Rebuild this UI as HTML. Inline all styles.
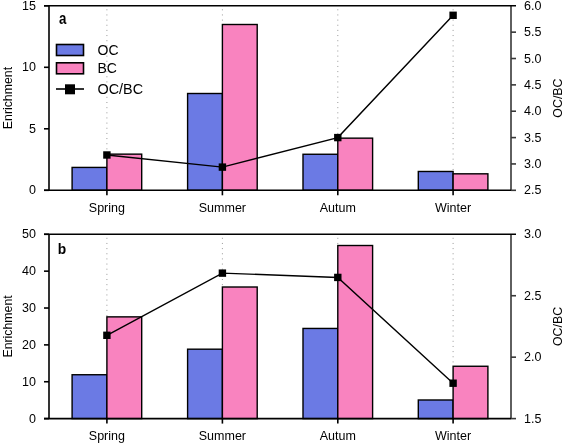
<!DOCTYPE html><html><head><meta charset="utf-8"><style>html,body{margin:0;padding:0;background:#fff;width:564px;height:447px;overflow:hidden}svg{display:block;will-change:transform}text{font-family:"Liberation Sans",sans-serif;fill:#000}</style></head><body>
<svg width="564" height="447" viewBox="0 0 564 447">
<line x1="106.9" y1="9.3" x2="106.9" y2="154.14" stroke="#999" stroke-width="1" stroke-dasharray="1 4.15"/>
<line x1="222.4" y1="9.3" x2="222.4" y2="24.5" stroke="#999" stroke-width="1" stroke-dasharray="1 4.15"/>
<line x1="337.8" y1="9.3" x2="337.8" y2="138.15" stroke="#999" stroke-width="1" stroke-dasharray="1 4.15"/>
<line x1="453.1" y1="9.3" x2="453.1" y2="171.48" stroke="#999" stroke-width="1" stroke-dasharray="1 4.15"/>
<rect x="72.1" y="167.42" width="34.8" height="22.88" fill="#6b7ae4" stroke="#000" stroke-width="1.4"/>
<rect x="106.9" y="154.14" width="34.8" height="36.16" fill="#f983bf" stroke="#000" stroke-width="1.4"/>
<rect x="187.6" y="93.5" width="34.8" height="96.8" fill="#6b7ae4" stroke="#000" stroke-width="1.4"/>
<rect x="222.4" y="24.5" width="34.8" height="165.8" fill="#f983bf" stroke="#000" stroke-width="1.4"/>
<rect x="303" y="154.26" width="34.8" height="36.04" fill="#6b7ae4" stroke="#000" stroke-width="1.4"/>
<rect x="337.8" y="138.15" width="34.8" height="52.15" fill="#f983bf" stroke="#000" stroke-width="1.4"/>
<rect x="418.3" y="171.48" width="34.8" height="18.82" fill="#6b7ae4" stroke="#000" stroke-width="1.4"/>
<rect x="453.1" y="173.82" width="34.8" height="16.48" fill="#f983bf" stroke="#000" stroke-width="1.4"/>
<line x1="511" y1="5.8" x2="511" y2="190.3" stroke="#383838" stroke-width="1.6"/>
<line x1="44" y1="5.8" x2="516" y2="5.8" stroke="#000" stroke-width="1.6"/>
<line x1="44" y1="190.3" x2="511" y2="190.3" stroke="#000" stroke-width="1.6"/>
<line x1="49" y1="5.8" x2="49" y2="190.3" stroke="#000" stroke-width="1.6"/>
<line x1="44" y1="190.3" x2="49" y2="190.3" stroke="#000" stroke-width="1.6"/>
<text x="36" y="194.4" font-size="12.5" text-anchor="end">0</text>
<line x1="44" y1="128.8" x2="49" y2="128.8" stroke="#000" stroke-width="1.6"/>
<text x="36" y="132.9" font-size="12.5" text-anchor="end">5</text>
<line x1="44" y1="67.3" x2="49" y2="67.3" stroke="#000" stroke-width="1.6"/>
<text x="36" y="71.4" font-size="12.5" text-anchor="end">10</text>
<line x1="44" y1="5.8" x2="49" y2="5.8" stroke="#000" stroke-width="1.6"/>
<text x="36" y="9.9" font-size="12.5" text-anchor="end">15</text>
<line x1="511" y1="190.3" x2="516" y2="190.3" stroke="#383838" stroke-width="1.6"/>
<text x="524" y="194.4" font-size="12.5">2.5</text>
<line x1="511" y1="163.94" x2="516" y2="163.94" stroke="#383838" stroke-width="1.6"/>
<text x="524" y="168.04" font-size="12.5">3.0</text>
<line x1="511" y1="137.59" x2="516" y2="137.59" stroke="#383838" stroke-width="1.6"/>
<text x="524" y="141.69" font-size="12.5">3.5</text>
<line x1="511" y1="111.23" x2="516" y2="111.23" stroke="#383838" stroke-width="1.6"/>
<text x="524" y="115.33" font-size="12.5">4.0</text>
<line x1="511" y1="84.87" x2="516" y2="84.87" stroke="#383838" stroke-width="1.6"/>
<text x="524" y="88.97" font-size="12.5">4.5</text>
<line x1="511" y1="58.51" x2="516" y2="58.51" stroke="#383838" stroke-width="1.6"/>
<text x="524" y="62.61" font-size="12.5">5.0</text>
<line x1="511" y1="32.16" x2="516" y2="32.16" stroke="#383838" stroke-width="1.6"/>
<text x="524" y="36.26" font-size="12.5">5.5</text>
<text x="524" y="9.9" font-size="12.5">6.0</text>
<line x1="106.9" y1="190.3" x2="106.9" y2="195.3" stroke="#000" stroke-width="1.6"/>
<text x="106.9" y="211.5" font-size="12.5" text-anchor="middle">Spring</text>
<line x1="222.4" y1="190.3" x2="222.4" y2="195.3" stroke="#000" stroke-width="1.6"/>
<text x="222.4" y="211.5" font-size="12.5" text-anchor="middle">Summer</text>
<line x1="337.8" y1="190.3" x2="337.8" y2="195.3" stroke="#000" stroke-width="1.6"/>
<text x="337.8" y="211.5" font-size="12.5" text-anchor="middle">Autum</text>
<line x1="453.1" y1="190.3" x2="453.1" y2="195.3" stroke="#000" stroke-width="1.6"/>
<text x="453.1" y="211.5" font-size="12.5" text-anchor="middle">Winter</text>
<polyline points="106.9,154.98 222.4,167.11 337.8,137.59 453.1,15.29" fill="none" stroke="#000" stroke-width="1.4"/>
<rect x="103.2" y="151.28" width="7.4" height="7.4" fill="#000"/>
<rect x="218.7" y="163.41" width="7.4" height="7.4" fill="#000"/>
<rect x="334.1" y="133.89" width="7.4" height="7.4" fill="#000"/>
<rect x="449.4" y="11.59" width="7.4" height="7.4" fill="#000"/>
<text transform="translate(12,98.05) rotate(-90)" font-size="12.3" text-anchor="middle">Enrichment</text>
<text transform="translate(562,98.05) rotate(-90)" font-size="12.4" text-anchor="middle">OC/BC</text>
<text transform="translate(58.9,23.9) scale(0.8,1)" font-size="16.6" font-weight="bold">a</text>
<line x1="106.9" y1="237.8" x2="106.9" y2="316.87" stroke="#999" stroke-width="1" stroke-dasharray="1 4.15"/>
<line x1="222.4" y1="237.8" x2="222.4" y2="287.01" stroke="#999" stroke-width="1" stroke-dasharray="1 4.15"/>
<line x1="337.8" y1="237.8" x2="337.8" y2="245.51" stroke="#999" stroke-width="1" stroke-dasharray="1 4.15"/>
<line x1="453.1" y1="237.8" x2="453.1" y2="366.26" stroke="#999" stroke-width="1" stroke-dasharray="1 4.15"/>
<rect x="72.1" y="374.74" width="34.8" height="43.86" fill="#6b7ae4" stroke="#000" stroke-width="1.4"/>
<rect x="106.9" y="316.87" width="34.8" height="101.73" fill="#f983bf" stroke="#000" stroke-width="1.4"/>
<rect x="187.6" y="349.19" width="34.8" height="69.41" fill="#6b7ae4" stroke="#000" stroke-width="1.4"/>
<rect x="222.4" y="287.01" width="34.8" height="131.59" fill="#f983bf" stroke="#000" stroke-width="1.4"/>
<rect x="303" y="328.44" width="34.8" height="90.16" fill="#6b7ae4" stroke="#000" stroke-width="1.4"/>
<rect x="337.8" y="245.51" width="34.8" height="173.09" fill="#f983bf" stroke="#000" stroke-width="1.4"/>
<rect x="418.3" y="399.99" width="34.8" height="18.61" fill="#6b7ae4" stroke="#000" stroke-width="1.4"/>
<rect x="453.1" y="366.26" width="34.8" height="52.34" fill="#f983bf" stroke="#000" stroke-width="1.4"/>
<line x1="511" y1="234.3" x2="511" y2="418.6" stroke="#383838" stroke-width="1.6"/>
<line x1="44" y1="234.3" x2="516" y2="234.3" stroke="#000" stroke-width="1.6"/>
<line x1="44" y1="418.6" x2="511" y2="418.6" stroke="#000" stroke-width="1.6"/>
<line x1="49" y1="234.3" x2="49" y2="418.6" stroke="#000" stroke-width="1.6"/>
<line x1="44" y1="418.6" x2="49" y2="418.6" stroke="#000" stroke-width="1.6"/>
<text x="36" y="422.7" font-size="12.5" text-anchor="end">0</text>
<line x1="44" y1="381.74" x2="49" y2="381.74" stroke="#000" stroke-width="1.6"/>
<text x="36" y="385.84" font-size="12.5" text-anchor="end">10</text>
<line x1="44" y1="344.88" x2="49" y2="344.88" stroke="#000" stroke-width="1.6"/>
<text x="36" y="348.98" font-size="12.5" text-anchor="end">20</text>
<line x1="44" y1="308.02" x2="49" y2="308.02" stroke="#000" stroke-width="1.6"/>
<text x="36" y="312.12" font-size="12.5" text-anchor="end">30</text>
<line x1="44" y1="271.16" x2="49" y2="271.16" stroke="#000" stroke-width="1.6"/>
<text x="36" y="275.26" font-size="12.5" text-anchor="end">40</text>
<line x1="44" y1="234.3" x2="49" y2="234.3" stroke="#000" stroke-width="1.6"/>
<text x="36" y="238.4" font-size="12.5" text-anchor="end">50</text>
<line x1="511" y1="418.6" x2="516" y2="418.6" stroke="#383838" stroke-width="1.6"/>
<text x="524" y="422.7" font-size="12.5">1.5</text>
<line x1="511" y1="357.17" x2="516" y2="357.17" stroke="#383838" stroke-width="1.6"/>
<text x="524" y="361.27" font-size="12.5">2.0</text>
<line x1="511" y1="295.73" x2="516" y2="295.73" stroke="#383838" stroke-width="1.6"/>
<text x="524" y="299.83" font-size="12.5">2.5</text>
<text x="524" y="238.4" font-size="12.5">3.0</text>
<line x1="106.9" y1="418.6" x2="106.9" y2="423.6" stroke="#000" stroke-width="1.6"/>
<text x="106.9" y="439.8" font-size="12.5" text-anchor="middle">Spring</text>
<line x1="222.4" y1="418.6" x2="222.4" y2="423.6" stroke="#000" stroke-width="1.6"/>
<text x="222.4" y="439.8" font-size="12.5" text-anchor="middle">Summer</text>
<line x1="337.8" y1="418.6" x2="337.8" y2="423.6" stroke="#000" stroke-width="1.6"/>
<text x="337.8" y="439.8" font-size="12.5" text-anchor="middle">Autum</text>
<line x1="453.1" y1="418.6" x2="453.1" y2="423.6" stroke="#000" stroke-width="1.6"/>
<text x="453.1" y="439.8" font-size="12.5" text-anchor="middle">Winter</text>
<polyline points="106.9,335.3 222.4,273.13 337.8,277.43 453.1,383.21" fill="none" stroke="#000" stroke-width="1.4"/>
<rect x="103.2" y="331.6" width="7.4" height="7.4" fill="#000"/>
<rect x="218.7" y="269.43" width="7.4" height="7.4" fill="#000"/>
<rect x="334.1" y="273.73" width="7.4" height="7.4" fill="#000"/>
<rect x="449.4" y="379.51" width="7.4" height="7.4" fill="#000"/>
<text transform="translate(12,326.45) rotate(-90)" font-size="12.3" text-anchor="middle">Enrichment</text>
<text transform="translate(562,326.45) rotate(-90)" font-size="12.4" text-anchor="middle">OC/BC</text>
<text transform="translate(57.7,254.3) scale(0.92,1)" font-size="15" font-weight="bold">b</text>
<rect x="56.5" y="44.5" width="27" height="11" fill="#6b7ae4" stroke="#000" stroke-width="1.6"/>
<rect x="56.5" y="62.8" width="27" height="11" fill="#f983bf" stroke="#000" stroke-width="1.6"/>
<line x1="56" y1="89" x2="84" y2="89" stroke="#000" stroke-width="1.6"/>
<rect x="65" y="84.3" width="10" height="10" fill="#000"/>
<text x="97.5" y="54.5" font-size="14">OC</text>
<text x="97.5" y="73.2" font-size="14">BC</text>
<text x="97.5" y="94.1" font-size="14.4">OC/BC</text>
</svg></body></html>
